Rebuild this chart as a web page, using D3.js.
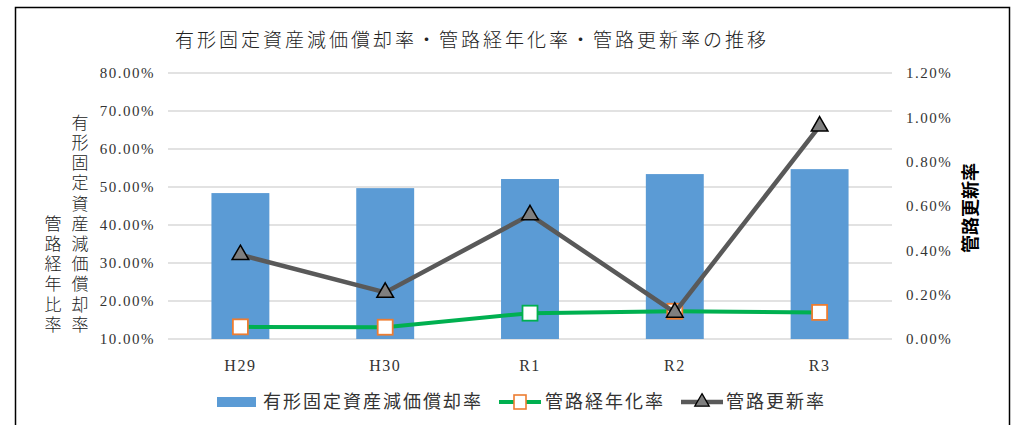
<!DOCTYPE html>
<html>
<head>
<meta charset="utf-8">
<script src="https://cdn.jsdelivr.net/npm/d3@7"></script>
<style>
  body { margin: 0; background: #fff; }
  svg { display: block; }
</style>
</head>
<body>
<div id="chart"></div>
<script>
// chart data
const categories = ["H29", "H30", "R1", "R2", "R3"];
const depreciation = [48.4, 49.7, 52.1, 53.4, 54.7];   // 有形固定資産減価償却率 (%)
const pipeAging = [13.2, 13.1, 16.8, 17.3, 17.0];       // 管路経年化率 (%)
const pipeRenewal = [0.38, 0.21, 0.56, 0.12, 0.96];     // 管路更新率 (%)
const leftTicks = [10, 20, 30, 40, 50, 60, 70, 80];
const rightTicks = [0, 0.2, 0.4, 0.6, 0.8, 1.0, 1.2];

const title = "有形固定資産減価償却率・管路経年化率・管路更新率の推移";
const leftTitle = ["有形固定資産減価償却率", "管路経年比率"];
const rightTitle = "管路更新率";
const legendNames = ["有形固定資産減価償却率", "管路経年化率", "管路更新率"];

const width = 1017;
const height = 425;
const margin = { top: 73, right: 125, bottom: 86, left: 168 };

const svg = d3.select("#chart")
  .append("svg")
  .attr("width", width)
  .attr("height", height);

// outer frame
svg.append("rect")
  .attr("x", 15.5)
  .attr("y", 7.5)
  .attr("width", 994)
  .attr("height", 430)
  .attr("fill", "none")
  .attr("stroke", "#000")
  .attr("stroke-width", 1.5);

const x = d3.scaleBand()
  .domain(categories)
  .range([margin.left, width - margin.right])
  .paddingInner(0.6)
  .paddingOuter(0.3);

const yLeft = d3.scaleLinear()
  .domain([10, 80])
  .range([height - margin.bottom, margin.top]);

const yRight = d3.scaleLinear()
  .domain([0, 1.2])
  .range([height - margin.bottom, margin.top]);

const serif = "'Liberation Serif', 'DejaVu Serif', serif";
const cjk = "'Noto Sans CJK JP', sans-serif";

// gridlines
svg.append("g")
  .selectAll("line")
  .data(leftTicks)
  .join("line")
  .attr("x1", margin.left)
  .attr("x2", width - margin.right)
  .attr("y1", d => yLeft(d))
  .attr("y2", d => yLeft(d))
  .attr("stroke", "#d9d9d9")
  .attr("stroke-width", 1.3);

// left axis
const leftAxis = svg.append("g")
  .attr("transform", `translate(${margin.left},0)`)
  .call(d3.axisLeft(yLeft).tickValues(leftTicks).tickSize(0).tickPadding(13)
    .tickFormat(d => d.toFixed(2) + "%"));
leftAxis.select(".domain").remove();
leftAxis.selectAll("text")
  .attr("font-family", serif)
  .attr("font-size", 15)
  .attr("letter-spacing", 1.5)
  .attr("fill", "#333");

// right axis
const rightAxis = svg.append("g")
  .attr("transform", `translate(${width - margin.right},0)`)
  .call(d3.axisRight(yRight).tickValues(rightTicks).tickSize(0).tickPadding(14)
    .tickFormat(d => d.toFixed(2) + "%"));
rightAxis.select(".domain").remove();
rightAxis.selectAll("text")
  .attr("font-family", serif)
  .attr("font-size", 15)
  .attr("letter-spacing", 1.5)
  .attr("fill", "#333");

// bars
svg.append("g")
  .selectAll("rect")
  .data(depreciation)
  .join("rect")
  .attr("x", (d, i) => x(categories[i]))
  .attr("width", x.bandwidth())
  .attr("y", d => yLeft(d))
  .attr("height", d => yLeft(10) - yLeft(d))
  .attr("fill", "#5b9bd5");

// x axis labels
const bottomAxis = svg.append("g")
  .attr("transform", `translate(0,${height - margin.bottom})`)
  .call(d3.axisBottom(x).tickSize(0).tickPadding(21));
bottomAxis.select(".domain").remove();
bottomAxis.selectAll("text")
  .attr("font-family", serif)
  .attr("font-size", 16)
  .attr("letter-spacing", 1.5)
  .attr("fill", "#333");

const cx = i => x(categories[i]) + x.bandwidth() / 2;

// 管路経年化率 line
svg.append("path")
  .datum(pipeAging)
  .attr("fill", "none")
  .attr("stroke", "#00b050")
  .attr("stroke-width", 4)
  .attr("d", d3.line().x((d, i) => cx(i)).y(d => yLeft(d)));

const squareStroke = ["#ed7d31", "#ed7d31", "#00b050", "#ed7d31", "#ed7d31"];
svg.append("g")
  .selectAll("rect")
  .data(pipeAging)
  .join("rect")
  .attr("x", (d, i) => cx(i) - 7.5)
  .attr("y", d => yLeft(d) - 7.5)
  .attr("width", 15)
  .attr("height", 15)
  .attr("fill", "#fff")
  .attr("stroke", (d, i) => squareStroke[i])
  .attr("stroke-width", 1.8);

// 管路更新率 line
svg.append("path")
  .datum(pipeRenewal)
  .attr("fill", "none")
  .attr("stroke", "#595959")
  .attr("stroke-width", 4.5)
  .attr("d", d3.line().x((d, i) => cx(i)).y(d => yRight(d)));

const tri = d3.symbol().type(d3.symbolTriangle).size(120);
svg.append("g")
  .selectAll("path")
  .data(pipeRenewal)
  .join("path")
  .attr("transform", (d, i) => `translate(${cx(i)},${yRight(d)})`)
  .attr("d", tri)
  .attr("fill", "#7f7f7f")
  .attr("stroke", "#000")
  .attr("stroke-width", 1.5);

// title
svg.append("text")
  .attr("x", 472)
  .attr("y", 47)
  .attr("text-anchor", "middle")
  .attr("font-family", cjk)
  .attr("font-size", 19)
  .attr("font-weight", 300)
  .attr("letter-spacing", 3)
  .attr("fill", "#222")
  .text(title);

// left axis title: two vertical columns, bottom aligned
const colX = [80, 53];
leftTitle.forEach((line, c) => {
  svg.append("text")
    .attr("x", colX[c])
    .attr("y", 336)
    .attr("text-anchor", "end")
    .style("writing-mode", "vertical-rl")
    .style("text-orientation", "upright")
    .attr("font-family", cjk)
    .attr("font-size", 17)
    .attr("font-weight", 300)
    .attr("letter-spacing", 3.2)
    .attr("fill", "#222")
    .text(line);
});

// right axis title
svg.append("text")
  .attr("transform", "translate(977,208) rotate(-90)")
  .attr("text-anchor", "middle")
  .attr("font-family", cjk)
  .attr("font-size", 18)
  .attr("font-weight", 700)
  .attr("fill", "#000")
  .text(rightTitle);

// legend
const legend = svg.append("g").attr("font-family", cjk).attr("font-size", 18);
const ly = 402;
legend.append("rect")
  .attr("x", 217).attr("y", ly - 5).attr("width", 39).attr("height", 10)
  .attr("fill", "#5b9bd5");
legend.append("text")
  .attr("x", 263).attr("y", ly).attr("dy", "0.35em")
  .attr("letter-spacing", 2).attr("fill", "#333")
  .text(legendNames[0]);

legend.append("line")
  .attr("x1", 499).attr("x2", 541).attr("y1", ly).attr("y2", ly)
  .attr("stroke", "#00b050").attr("stroke-width", 4);
legend.append("rect")
  .attr("x", 520 - 6).attr("y", ly - 7).attr("width", 12).attr("height", 14)
  .attr("fill", "#fff").attr("stroke", "#ed7d31").attr("stroke-width", 1.6);
legend.append("text")
  .attr("x", 545).attr("y", ly).attr("dy", "0.35em")
  .attr("letter-spacing", 2).attr("fill", "#333")
  .text(legendNames[1]);

legend.append("line")
  .attr("x1", 681).attr("x2", 723).attr("y1", ly).attr("y2", ly)
  .attr("stroke", "#595959").attr("stroke-width", 4.5);
legend.append("path")
  .attr("transform", `translate(702,${ly})`)
  .attr("d", d3.symbol().type(d3.symbolTriangle).size(90))
  .attr("fill", "#7f7f7f").attr("stroke", "#000").attr("stroke-width", 1.3);
legend.append("text")
  .attr("x", 726).attr("y", ly).attr("dy", "0.35em")
  .attr("letter-spacing", 2).attr("fill", "#333")
  .text(legendNames[2]);
</script>
</body>
</html>
